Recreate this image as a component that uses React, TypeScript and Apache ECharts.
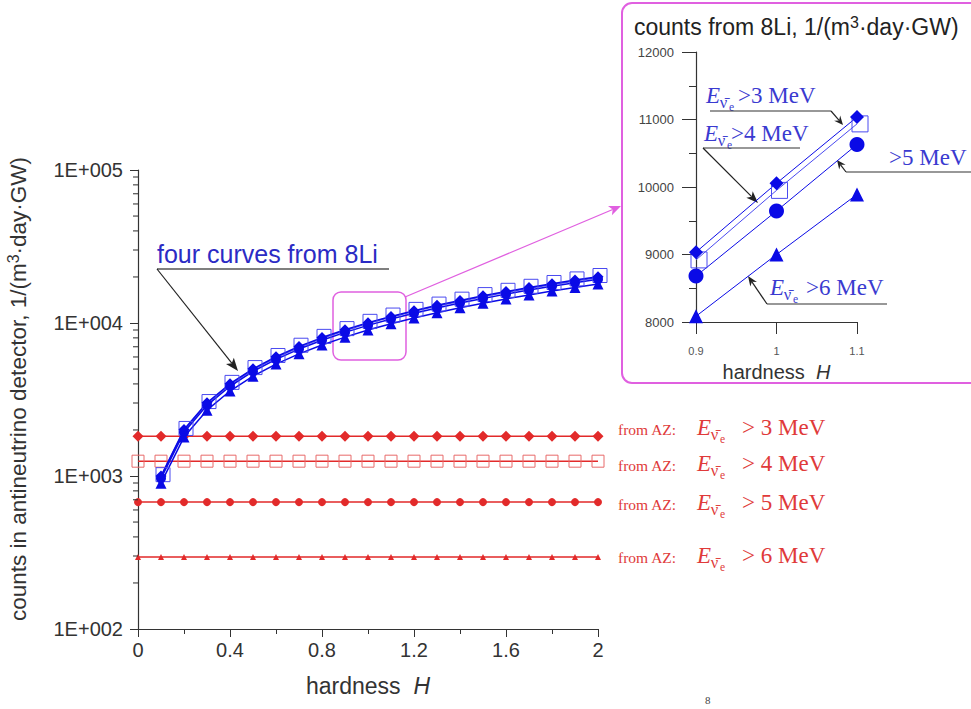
import React, { useEffect, useRef } from "react";
import * as echarts from "echarts";

// ---- data ----
const hardness = [0.1, 0.2, 0.3, 0.4, 0.5, 0.6, 0.7, 0.8, 0.9, 1.0, 1.1, 1.2, 1.3, 1.4, 1.5, 1.6, 1.7, 1.8, 1.9, 2.0];
const li3MeV = [1000, 2010, 3010, 4010, 5020, 6020, 7030, 8030, 9035, 10055, 11037, 12040, 13050, 14050, 15060, 16060, 17070, 18070, 19080, 20080];
const li4MeV = [990, 1985, 2975, 3970, 4960, 5950, 6945, 7935, 8920, 9950, 10935, 11910, 12900, 13890, 14880, 15870, 16860, 17850, 18840, 19830];
const li5MeV = [965, 1930, 2895, 3860, 4825, 5790, 6755, 7720, 8680, 9645, 10630, 11580, 12545, 13510, 14475, 15440, 16405, 17370, 18335, 19300];
const li6MeV = [898, 1796, 2694, 3592, 4490, 5388, 6286, 7184, 8085, 9000, 9890, 10776, 11674, 12572, 13470, 14368, 15266, 16164, 17062, 17960];

const hardnessAZ = [0, 0.1, 0.2, 0.3, 0.4, 0.5, 0.6, 0.7, 0.8, 0.9, 1.0, 1.1, 1.2, 1.3, 1.4, 1.5, 1.6, 1.7, 1.8, 1.9, 2.0];
const az3MeV = 1820;
const az4MeV = 1250;
const az5MeV = 675;
const az6MeV = 295;

const insetH = [0.9, 1.0, 1.1];
const inset3MeV = [9035, 10055, 11037];
const inset4MeV = [8920, 9950, 10935];
const inset5MeV = [8680, 9645, 10630];
const inset6MeV = [8085, 9000, 9890];

const yMinorMain = [200, 300, 400, 500, 600, 700, 800, 900, 2000, 3000, 4000, 5000, 6000, 7000, 8000, 9000, 20000, 30000, 40000, 50000, 60000, 70000, 80000, 90000];

const BLUE = "#0a0ae6";
const RED = "#e22a2a";
const REDTXT = "#e03a3a";
const BLUETXT = "#3a3ad0";
const MAG = "#e060e0";
const SERIF = '"Liberation Serif", "DejaVu Serif", serif';
const SANS = '"Liberation Sans", Arial, sans-serif';

function arrow(x1: number, y1: number, x2: number, y2: number, color: string, headLen = 12, headW = 4.5, lw = 1.2) {
  const dx = x2 - x1, dy = y2 - y1;
  const L = Math.hypot(dx, dy);
  const ux = dx / L, uy = dy / L;
  const bx = x2 - ux * headLen, by = y2 - uy * headLen;
  const px = -uy, py = ux;
  return [
    { type: "line", silent: true, shape: { x1, y1, x2: bx + ux * 3, y2: by + uy * 3 }, style: { stroke: color, lineWidth: lw } },
    {
      type: "polygon", silent: true,
      shape: { points: [[x2, y2], [bx + px * headW, by + py * headW], [bx + ux * 3, by + uy * 3], [bx - px * headW, by - py * headW]] },
      style: { fill: color },
    },
  ];
}

function eNu(x: number, y: number, color: string, size: number, rest: string, restDx: number) {
  return [
    { type: "text", silent: true, x, y, style: { text: "E", fontSize: size, fontStyle: "italic", fontFamily: SERIF, fill: color, verticalAlign: "middle" } },
    { type: "text", silent: true, x: x + size * 0.6, y: y + size * 0.32, style: { text: "\u03bd\u0304", fontSize: size * 0.72, fontFamily: SERIF, fill: color, verticalAlign: "middle" } },
    { type: "text", silent: true, x: x + size * 0.6 + size * 0.4, y: y + size * 0.5, style: { text: "e", fontSize: size * 0.5, fontFamily: SERIF, fill: color, verticalAlign: "middle" } },
    { type: "text", silent: true, x: x + restDx, y, style: { text: rest, fontSize: size, fontFamily: SERIF, fill: color, verticalAlign: "middle" } },
  ];
}

function azLabel(y: number, mev: string) {
  return [
    { type: "text", silent: true, x: 618, y: y + 2, style: { text: "from AZ:", fontSize: 15.5, fontFamily: SERIF, fill: REDTXT, verticalAlign: "middle" } },
    ...eNu(697, y, REDTXT, 23, "> " + mev + " MeV", 45),
  ];
}

export default function App() {
  const ref = useRef<HTMLDivElement>(null);
  useEffect(() => {
    if (!ref.current) return;
    const chart = echarts.init(ref.current, null, { renderer: "svg" });

    const zip = (xs: number[], ys: number[]) => xs.map((x, i) => [x, ys[i]]);
    const flat = (v: number) => hardnessAZ.map((x) => [x, v]);

    const blueSeries = (data: number[][], symbol: string, size: number, hollow: boolean, xi: number, offset?: number[]) => ({
      type: "line",
      xAxisIndex: xi,
      yAxisIndex: xi,
      data,
      symbol,
      symbolSize: size,
      symbolOffset: offset || [0, 0],
      showSymbol: true,
      lineStyle: { color: hollow ? "#4a4af0" : BLUE, width: xi === 0 ? 1.5 : 1 },
      itemStyle: hollow ? { color: "rgba(0,0,0,0)", borderColor: "#4a4af0", borderWidth: 1 } : { color: BLUE },
      z: 4,
    });

    const redSeries = (data: number[][], symbol: string, size: number, hollow: boolean) => ({
      type: "line",
      data,
      symbol,
      symbolSize: size,
      lineStyle: { color: RED, width: 1.5 },
      itemStyle: hollow ? { color: "rgba(0,0,0,0)", borderColor: "#e86a6a", borderWidth: 1 } : { color: RED },
      z: 3,
    });

    const graphics: any[] = [
      // inset frame and title
      { type: "rect", silent: true, shape: { x: 622, y: 3, width: 400, height: 380, r: 10 }, style: { fill: "none", stroke: MAG, lineWidth: 2 } },
      {
        type: "text", silent: true, x: 634, y: 27,
        style: {
          text: "counts from 8Li, 1/(m{sup|3}·day·GW)", fontSize: 23, fontFamily: SANS, fill: "#222", verticalAlign: "middle",
          rich: { sup: { fontSize: 16, fontFamily: SANS, fill: "#222", verticalAlign: "top", padding: [0, 0, 10, 0] } },
        },
      },
      // y axis title of main plot
      {
        type: "text", silent: true, x: 18, y: 389, rotation: Math.PI / 2,
        style: {
          text: "counts in antineutrino detector, 1/(m{sup|3}·day·GW)", fontSize: 22.5, fontFamily: SANS, fill: "#333",
          align: "center", verticalAlign: "middle",
          rich: { sup: { fontSize: 16, fontFamily: SANS, fill: "#333", verticalAlign: "top", padding: [0, 0, 10, 0] } },
        },
      },
      // zoom box in main plot + arrow to inset
      { type: "rect", silent: true, shape: { x: 333, y: 292, width: 73, height: 68, r: 8 }, style: { fill: "none", stroke: MAG, lineWidth: 1.5 } },
      ...arrow(405, 297, 621, 206, MAG, 12, 5, 1.3),
      // "four curves from 8Li"
      { type: "text", silent: true, x: 157, y: 254, style: { text: "four curves from 8Li", fontSize: 25, fontFamily: SANS, fill: "#2b2bc4", verticalAlign: "middle" } },
      { type: "line", silent: true, shape: { x1: 157, y1: 269, x2: 389, y2: 269 }, style: { stroke: "#555", lineWidth: 1.5 } },
      ...arrow(157, 269, 238, 371, "#222", 13, 5, 1.2),
      // red AZ labels
      ...azLabel(427, "3"),
      ...azLabel(463, "4"),
      ...azLabel(502, "5"),
      ...azLabel(555, "6"),
      // inset annotations
      ...eNu(706, 95, BLUETXT, 23, ">3 MeV", 32),
      { type: "line", silent: true, shape: { x1: 710, y1: 111, x2: 831, y2: 111 }, style: { stroke: "#333", lineWidth: 1.2 } },
      ...arrow(831, 111, 843, 125, "#222", 9, 4, 1.2),
      ...eNu(704, 133, BLUETXT, 23, ">4 MeV", 27),
      { type: "line", silent: true, shape: { x1: 703, y1: 148, x2: 800, y2: 148 }, style: { stroke: "#333", lineWidth: 1.2 } },
      ...arrow(703, 148, 758, 203, "#222", 12, 4.5, 1.2),
      { type: "text", silent: true, x: 889, y: 157, style: { text: ">5 MeV", fontSize: 23, fontFamily: SERIF, fill: BLUETXT, verticalAlign: "middle" } },
      { type: "line", silent: true, shape: { x1: 846, y1: 172, x2: 975, y2: 172 }, style: { stroke: "#333", lineWidth: 1.2 } },
      ...arrow(846, 172, 837, 160, "#222", 9, 4, 1.2),
      ...eNu(770, 287, BLUETXT, 23, ">6 MeV", 36),
      { type: "line", silent: true, shape: { x1: 767, y1: 304, x2: 887, y2: 304 }, style: { stroke: "#333", lineWidth: 1.2 } },
      ...arrow(767, 304, 748, 276, "#222", 10, 4, 1.2),
      // stray caption fragment
      { type: "text", silent: true, x: 705, y: 700, style: { text: "8", fontSize: 11, fontFamily: SERIF, fill: "#444", verticalAlign: "middle" } },
    ];

    const option: any = {
      animation: false,
      backgroundColor: "#ffffff",
      grid: [
        { left: 138, top: 170, width: 460, height: 459 },
        { left: 696, top: 52, width: 161, height: 270 },
      ],
      xAxis: [
        {
          type: "value", gridIndex: 0, min: 0, max: 2, interval: 0.4,
          axisLine: { show: true, lineStyle: { color: "#333", width: 1.2 } },
          axisTick: { show: true, length: 8, lineStyle: { color: "#333" } },
          minorTick: { show: true, splitNumber: 2, length: 5, lineStyle: { color: "#333" } },
          splitLine: { show: false },
          axisLabel: { color: "#333", fontSize: 20, fontFamily: SANS, margin: 11, formatter: (v: number) => String(Math.round(v * 10) / 10) },
          name: "hardness  {i|H}", nameLocation: "middle", nameGap: 45,
          nameTextStyle: { color: "#333", fontSize: 23, fontFamily: SANS, rich: { i: { fontStyle: "italic", fontSize: 23, fontFamily: SANS, color: "#333" } } },
        },
        {
          type: "value", gridIndex: 1, min: 0.9, max: 1.1, interval: 0.1,
          axisLine: { show: true, lineStyle: { color: "#333", width: 1.2 } },
          axisTick: { show: true, length: 12, lineStyle: { color: "#333" } },
          splitLine: { show: false },
          axisLabel: { color: "#555", fontSize: 11, fontFamily: SANS, margin: 23, formatter: (v: number) => String(Math.round(v * 10) / 10) },
          name: "hardness  {i|H}", nameLocation: "middle", nameGap: 40,
          nameTextStyle: { color: "#333", fontSize: 20, fontFamily: SANS, rich: { i: { fontStyle: "italic", fontSize: 20, fontFamily: SANS, color: "#333" } } },
        },
      ],
      yAxis: [
        {
          type: "log", gridIndex: 0, min: 100, max: 100000, logBase: 10,
          axisLine: { show: true, lineStyle: { color: "#333", width: 1.2 } },
          axisTick: { show: true, length: 8, lineStyle: { color: "#333" } },
          splitLine: { show: false },
          axisLabel: {
            color: "#333", fontSize: 20, fontFamily: SANS, margin: 15,
            formatter: (v: number) => "1E+" + String(Math.round(Math.log10(v))).padStart(3, "0"),
          },
        },
        {
          type: "value", gridIndex: 1, min: 8000, max: 12000, interval: 1000,
          axisLine: { show: true, lineStyle: { color: "#333", width: 1.2 } },
          axisTick: { show: true, length: 14, lineStyle: { color: "#333" } },
          minorTick: { show: true, splitNumber: 2, length: 7, lineStyle: { color: "#333" } },
          splitLine: { show: false },
          axisLabel: { color: "#444", fontSize: 13, fontFamily: SANS, margin: 22, formatter: (v: number) => String(v) },
        },
      ],
      series: [
        // minor ticks of the log axis, placed by the axis scale
        {
          type: "scatter", xAxisIndex: 0, yAxisIndex: 0, silent: true, clip: false, z: 6,
          data: yMinorMain.map((v) => [0, v]),
          symbol: "rect", symbolSize: [5, 1.3], symbolOffset: [-2.5, 0],
          itemStyle: { color: "#333" },
        },
        redSeries(flat(az3MeV), "diamond", 11, false),
        redSeries(flat(az4MeV), "rect", 12, true),
        redSeries(flat(az5MeV), "circle", 8, false),
        redSeries(flat(az6MeV), "triangle", 6, false),
        blueSeries(zip(hardness, li4MeV), "rect", 14, true, 0, [2, -2]),
        blueSeries(zip(hardness, li3MeV), "diamond", 11, false, 0),
        blueSeries(zip(hardness, li5MeV), "circle", 10, false, 0),
        blueSeries(zip(hardness, li6MeV), "triangle", 11, false, 0),
        blueSeries(zip(insetH, inset4MeV), "rect", 16, true, 1, [3, 0]),
        blueSeries(zip(insetH, inset3MeV), "diamond", 14, false, 1),
        blueSeries(zip(insetH, inset5MeV), "circle", 15, false, 1),
        blueSeries(zip(insetH, inset6MeV), "triangle", 14, false, 1),
      ],
      graphic: graphics,
    };

    chart.setOption(option);
    return () => chart.dispose();
  }, []);

  return <div ref={ref} style={{ position: "absolute", left: 0, top: 0, width: 971, height: 709 }} />;
}
